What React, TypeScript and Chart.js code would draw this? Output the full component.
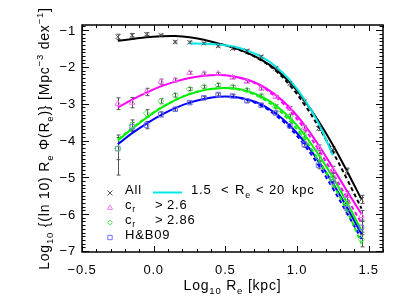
import React, { useEffect, useRef } from 'react';
import { Chart, registerables } from 'chart.js';
Chart.register(...registerables);

// ---------------- data ----------------
const ptX = [-0.25, -0.15, -0.05, 0.05, 0.15, 0.25, 0.35, 0.45, 0.55, 0.65, 0.75, 0.85, 0.95, 1.05, 1.15, 1.25, 1.35, 1.45];

const allPts = [-1.18, -1.14, -1.11, -1.14, -1.32, -1.33, -1.36, -1.43, -1.5, -1.56, -1.72, -2.04, -2.45, -2.95, -3.67, -4.25, -4.83, -5.6];
const crPts = [-3.0, -2.97, -2.68, -2.4, -2.36, -2.16, -2.18, -2.18, -2.29, -2.4, -2.59, -2.81, -3.13, -3.65, -4.2, -4.8, -5.5, -6.05];
const cr286Pts = [-4.22, -3.58, -3.26, -2.93, -2.77, -2.6, -2.54, -2.49, -2.54, -2.63, -2.79, -3.08, -3.35, -3.85, -4.45, -5.0, -5.7, -6.69];
const hbPts = [-4.22, -3.63, -3.58, -3.29, -3.15, -2.97, -2.84, -2.75, -2.79, -2.92, -3.04, -3.25, -3.6, -4.1, -4.67, -5.12, -5.85, -6.36];

const allErr = [0.07, 0.05, 0.04, 0.03, 0.03, 0.03, 0.03, 0.03, 0.03, 0.03, 0.03, 0.04, 0.04, 0.05, 0.06, 0.08, 0.08, 0.11];
const crErr = [0.16, 0.14, 0.1, 0.07, 0.05, 0.04, 0.04, 0.03, 0.03, 0.03, 0.04, 0.04, 0.05, 0.06, 0.08, 0.1, 0.12, 0.15];
const cr286Err = [0.3, 0.14, 0.1, 0.07, 0.05, 0.04, 0.04, 0.04, 0.04, 0.04, 0.05, 0.05, 0.06, 0.08, 0.1, 0.12, 0.15, 0.2];
const hbErrUp = [0.37, 0.12, 0.1, 0.07, 0.05, 0.04, 0.04, 0.04, 0.04, 0.04, 0.05, 0.05, 0.06, 0.08, 0.1, 0.12, 0.15, 0.2];
const hbErrDn = [0.72, 0.12, 0.1, 0.07, 0.05, 0.04, 0.04, 0.04, 0.04, 0.04, 0.05, 0.05, 0.06, 0.08, 0.1, 0.12, 0.15, 0.2];

// fitted curves (solid)
const fitX = [-0.25, -0.15, -0.05, 0.05, 0.15, 0.25, 0.35, 0.45, 0.55, 0.65, 0.75, 0.85, 0.95, 1.05, 1.15, 1.25, 1.35, 1.45];
const allFit = [-1.29, -1.24, -1.19, -1.165, -1.16, -1.19, -1.26, -1.36, -1.47, -1.61, -1.8, -2.06, -2.42, -2.9, -3.47, -4.12, -4.84, -5.6];
const crFit = [-3.1, -2.89, -2.7, -2.53, -2.4, -2.3, -2.24, -2.22, -2.25, -2.34, -2.5, -2.76, -3.11, -3.57, -4.12, -4.74, -5.38, -6.0];
const cr286Fit = [-4.0, -3.68, -3.38, -3.12, -2.9, -2.74, -2.63, -2.58, -2.58, -2.65, -2.8, -3.04, -3.38, -3.83, -4.38, -5.0, -5.7, -6.45];
const hbFit = [-4.1, -3.8, -3.54, -3.31, -3.12, -2.97, -2.87, -2.81, -2.81, -2.88, -3.02, -3.26, -3.59, -4.03, -4.56, -5.16, -5.83, -6.55];

// fitted curves (dashed)
const dashX = [0.55, 0.65, 0.75, 0.85, 0.95, 1.05, 1.15, 1.25, 1.35, 1.45];
const allDash = [-1.47, -1.62, -1.82, -2.1, -2.5, -3.01, -3.62, -4.31, -5.06, -5.85];
const crDash = [-2.25, -2.35, -2.53, -2.81, -3.19, -3.67, -4.25, -4.89, -5.57, -6.25];
const cr286DashX = [-0.25, -0.15, -0.05, 0.05, 0.15, 0.25, 0.35, 0.45, 0.55, 0.65, 0.75, 0.85, 0.95, 1.05, 1.15, 1.25, 1.35, 1.45];
const cr286Dash = [-3.97, -3.66, -3.37, -3.11, -2.9, -2.74, -2.63, -2.58, -2.59, -2.67, -2.84, -3.1, -3.47, -3.95, -4.53, -5.18, -5.92, -6.8];
const hbDash = [-2.81, -2.89, -3.05, -3.31, -3.66, -4.12, -4.67, -5.3, -5.98, -6.68];

// 1.5 < Re < 20 kpc curve
const cyanX = [0.25, 0.35, 0.45, 0.55, 0.65, 0.75, 0.85, 0.95, 1.05, 1.15, 1.25];
const cyanFit = [-1.36, -1.37, -1.39, -1.44, -1.55, -1.72, -1.98, -2.36, -2.87, -3.53, -4.4];

const xTicks = [-0.5, 0.0, 0.5, 1.0, 1.5];
const yTicks = [-7, -6, -5, -4, -3, -2, -1];
const xMinorStep = 0.1;
const yMinorStep = 0.1;

const legendLabels = ['All', 'c_r > 2.6', 'c_r > 2.86', 'H&B09'];

// ---------------- styles ----------------
const FONT = '"Liberation Sans", Arial, Helvetica, sans-serif';
const BLACK = '#000000';
const MAG = '#ff00ff';
const GRN = '#00ee00';
const BLU = '#0000ff';
const CYA = '#00e8e8';
const pAll = '#555555';
const pMag = '#ff70ff';
const pGrn = '#60e860';
const pBlu = '#7070ff';

const zip = (xs: number[], ys: number[]) => xs.map((x, i) => ({ x, y: ys[i] }));

type Seg = { t: string; k?: 'sub' | 'sup' };
function drawRich(ctx: CanvasRenderingContext2D, segs: Seg[], x: number, y: number, align: 'left' | 'center', size: number) {
  const small = size * 0.68;
  const widths = segs.map((s) => {
    ctx.font = `${s.k ? small : size}px ${FONT}`;
    return ctx.measureText(s.t).width;
  });
  const total = widths.reduce((a, b) => a + b, 0);
  let cx = align === 'center' ? x - total / 2 : x;
  segs.forEach((s, i) => {
    ctx.font = `${s.k ? small : size}px ${FONT}`;
    const dy = s.k === 'sub' ? size * 0.28 : s.k === 'sup' ? -size * 0.42 : 0;
    ctx.fillText(s.t, cx, y + dy);
    cx += widths[i];
  });
}

function drawMarker(ctx: CanvasRenderingContext2D, kind: string, x: number, y: number, r: number, color: string) {
  ctx.save();
  ctx.strokeStyle = color;
  ctx.lineWidth = 1;
  ctx.beginPath();
  if (kind === 'cross') {
    ctx.moveTo(x - r, y - r); ctx.lineTo(x + r, y + r);
    ctx.moveTo(x - r, y + r); ctx.lineTo(x + r, y - r);
  } else if (kind === 'tri') {
    ctx.moveTo(x, y - r); ctx.lineTo(x + r, y + r * 0.75); ctx.lineTo(x - r, y + r * 0.75); ctx.closePath();
  } else if (kind === 'dia') {
    ctx.moveTo(x, y - r); ctx.lineTo(x + r, y); ctx.lineTo(x, y + r); ctx.lineTo(x - r, y); ctx.closePath();
  } else {
    ctx.rect(x - r, y - r, 2 * r, 2 * r);
  }
  ctx.stroke();
  ctx.restore();
}

const errSets = [
  { ys: allPts, up: allErr, dn: allErr },
  { ys: crPts, up: crErr, dn: crErr },
  { ys: cr286Pts, up: cr286Err, dn: cr286Err },
  { ys: hbPts, up: hbErrUp, dn: hbErrDn },
];

const overlay = {
  id: 'overlay',
  beforeDatasetsDraw(chart: any) {
    const ctx: CanvasRenderingContext2D = chart.ctx;
    const xs = chart.scales.x;
    const ys = chart.scales.y;
    ctx.save();
    ctx.strokeStyle = '#555555';
    ctx.lineWidth = 1;
    errSets.forEach((s) => {
      ptX.forEach((xv, i) => {
        const px = Math.round(xs.getPixelForValue(xv)) + 0.5;
        const top = ys.getPixelForValue(s.ys[i] + s.up[i]);
        const bot = ys.getPixelForValue(s.ys[i] - s.dn[i]);
        ctx.beginPath();
        ctx.moveTo(px, top); ctx.lineTo(px, bot);
        ctx.moveTo(px - 2, top); ctx.lineTo(px + 2, top);
        ctx.moveTo(px - 2, bot); ctx.lineTo(px + 2, bot);
        ctx.stroke();
      });
    });
    ctx.restore();
  },
  afterDraw(chart: any) {
    const ctx: CanvasRenderingContext2D = chart.ctx;
    const xs = chart.scales.x;
    const ys = chart.scales.y;
    const a = chart.chartArea;
    ctx.save();
    (ctx as any).letterSpacing = '0.8px';
    // frame
    ctx.strokeStyle = '#000';
    ctx.lineWidth = 1.5;
    ctx.strokeRect(a.left, a.top, a.right - a.left, a.bottom - a.top);
    ctx.lineWidth = 1;
    // x ticks
    const xmin = xs.min, xmax = xs.max;
    for (let v = Math.ceil(xmin / xMinorStep) * xMinorStep; v <= xmax + 1e-9; v += xMinorStep) {
      const isMajor = xTicks.some((t) => Math.abs(t - v) < 1e-6);
      const L = isMajor ? 6 : 3;
      const px = Math.round(xs.getPixelForValue(v)) + 0.5;
      ctx.beginPath();
      ctx.moveTo(px, a.bottom); ctx.lineTo(px, a.bottom - L);
      ctx.moveTo(px, a.top); ctx.lineTo(px, a.top + L);
      ctx.stroke();
    }
    const ymin = ys.min, ymax = ys.max;
    for (let v = Math.ceil(ymin / yMinorStep) * yMinorStep; v <= ymax + 1e-9; v += yMinorStep) {
      const isMajor = yTicks.some((t) => Math.abs(t - v) < 1e-6);
      const L = isMajor ? 7 : 3.5;
      const py = Math.round(ys.getPixelForValue(v)) + 0.5;
      ctx.beginPath();
      ctx.moveTo(a.left, py); ctx.lineTo(a.left + L, py);
      ctx.moveTo(a.right, py); ctx.lineTo(a.right - L, py);
      ctx.stroke();
    }
    // tick labels
    ctx.fillStyle = '#000';
    ctx.font = `13px ${FONT}`;
    ctx.textBaseline = 'alphabetic';
    ctx.textAlign = 'center';
    const fmt = (v: number, d: number) => (v < 0 ? '\u2212' : '') + Math.abs(v).toFixed(d);
    xTicks.forEach((t) => {
      ctx.fillText(fmt(t, 1), xs.getPixelForValue(t), a.bottom + 22);
    });
    ctx.textAlign = 'right';
    yTicks.forEach((t) => {
      ctx.fillText(fmt(t, 0), a.left - 6, ys.getPixelForValue(t) + 4.5);
    });
    ctx.textAlign = 'left';
    // axis titles
    drawRich(ctx, [{ t: 'Log' }, { t: '10', k: 'sub' }, { t: ' R' }, { t: 'e', k: 'sub' }, { t: ' [kpc]' }], (a.left + a.right) / 2, 290, 'center', 14);
    ctx.save();
    ctx.translate(49, (a.top + a.bottom) / 2);
    ctx.rotate(-Math.PI / 2);
    drawRich(
      ctx,
      [
        { t: 'Log' }, { t: '10', k: 'sub' }, { t: ' {(ln 10) R' }, { t: 'e', k: 'sub' }, { t: ' \u03A6(R' }, { t: 'e', k: 'sub' },
        { t: ')} [Mpc' }, { t: '\u22123', k: 'sup' }, { t: ' dex' }, { t: '\u22121', k: 'sup' }, { t: ']' },
      ],
      0, 0, 'center', 14,
    );
    ctx.restore();
    // legend
    const lx = 110;
    const tx = 125;
    const base = [194, 208.5, 223.5, 238.5];
    drawMarker(ctx, 'cross', lx, base[0] - 1, 2.5, pAll);
    drawMarker(ctx, 'tri', lx, base[1] - 1, 2.5, pMag);
    drawMarker(ctx, 'dia', lx, base[2] - 1, 2.5, pGrn);
    drawMarker(ctx, 'sq', lx, base[3] - 1, 2.2, pBlu);
    ctx.font = `13px ${FONT}`;
    ctx.fillText(legendLabels[0], tx, base[0]);
    drawRich(ctx, [{ t: 'c' }, { t: 'r', k: 'sub' }], tx, base[1], 'left', 13);
    ctx.font = `13px ${FONT}`;
    ctx.fillText('>', 155, base[1]);
    ctx.fillText('2.6', 167, base[1]);
    drawRich(ctx, [{ t: 'c' }, { t: 'r', k: 'sub' }], tx, base[2], 'left', 13);
    ctx.font = `13px ${FONT}`;
    ctx.fillText('>', 155, base[2]);
    ctx.fillText('2.86', 167, base[2]);
    ctx.fillText(legendLabels[3], tx, base[3]);
    // cyan legend line
    ctx.strokeStyle = CYA;
    ctx.lineWidth = 2;
    ctx.beginPath();
    ctx.moveTo(153, base[0] - 1.5); ctx.lineTo(182, base[0] - 1.5);
    ctx.stroke();
    ctx.fillText('1.5', 191, base[0]);
    ctx.fillText('<', 221, base[0]);
    drawRich(ctx, [{ t: 'R' }, { t: 'e', k: 'sub' }], 235, base[0], 'left', 13);
    ctx.font = `13px ${FONT}`;
    ctx.fillText('<', 256, base[0]);
    ctx.fillText('20', 269, base[0]);
    ctx.fillText('kpc', 292, base[0]);
    ctx.restore();
  },
};

const lineDs = (data: any[], color: string, dashed: boolean, order: number) => ({
  type: 'line' as const,
  data,
  borderColor: color,
  borderWidth: 2,
  borderDash: dashed ? [4, 3] : [],
  pointRadius: 0,
  fill: false,
  showLine: true,
  tension: 0.4,
  order,
});

const ptDs = (data: any[], color: string, style: string, order: number) => ({
  type: 'scatter' as const,
  data,
  borderColor: color,
  backgroundColor: 'rgba(0,0,0,0)',
  borderWidth: 1,
  pointStyle: style,
  pointRadius: 3.2,
  showLine: false,
  order,
});

export default function App() {
  const ref = useRef<HTMLCanvasElement | null>(null);
  useEffect(() => {
    document.body.style.margin = '0';
    const canvas = ref.current!;
    const chart = new Chart(canvas, {
      type: 'scatter',
      data: {
        datasets: [
          ptDs(zip(ptX, allPts), pAll, 'crossRot', 1),
          ptDs(zip(ptX, crPts), pMag, 'triangle', 2),
          ptDs(zip(ptX, cr286Pts), pGrn, 'rectRot', 3),
          ptDs(zip(ptX, hbPts), pBlu, 'rect', 4),
          lineDs(zip(cyanX, cyanFit), CYA, false, 5),
          lineDs(zip(dashX, allDash), BLACK, true, 6),
          lineDs(zip(dashX, crDash), MAG, true, 7),
          lineDs(zip(cr286DashX, cr286Dash), GRN, true, 8),
          lineDs(zip(dashX, hbDash), BLU, true, 9),
          lineDs(zip(fitX, allFit), BLACK, false, 10),
          lineDs(zip(fitX, crFit), MAG, false, 11),
          lineDs(zip(fitX, cr286Fit), GRN, false, 12),
          lineDs(zip(fitX, hbFit), BLU, false, 13),
        ] as any,
      },
      options: {
        animation: false,
        responsive: false,
        devicePixelRatio: 1,
        layout: { padding: { left: 0, right: 24, top: 25, bottom: 0 } },
        plugins: { legend: { display: false }, tooltip: { enabled: false } },
        scales: {
          x: {
            type: 'linear',
            min: -0.5,
            max: 1.6,
            grid: { display: false },
            border: { display: false },
            ticks: { display: false },
            afterFit: (s: any) => { s.height = 54; },
          },
          y: {
            type: 'linear',
            min: -7.03,
            max: -0.86,
            grid: { display: false },
            border: { display: false },
            ticks: { display: false },
            afterFit: (s: any) => { s.width = 82; },
          },
        },
      },
      plugins: [overlay],
    });
    return () => chart.destroy();
  }, []);
  return (
    <div style={{ width: 407, height: 306, background: '#fff' }}>
      <canvas ref={ref} width={407} height={306} style={{ display: 'block', width: 407, height: 306 }} />
    </div>
  );
}
